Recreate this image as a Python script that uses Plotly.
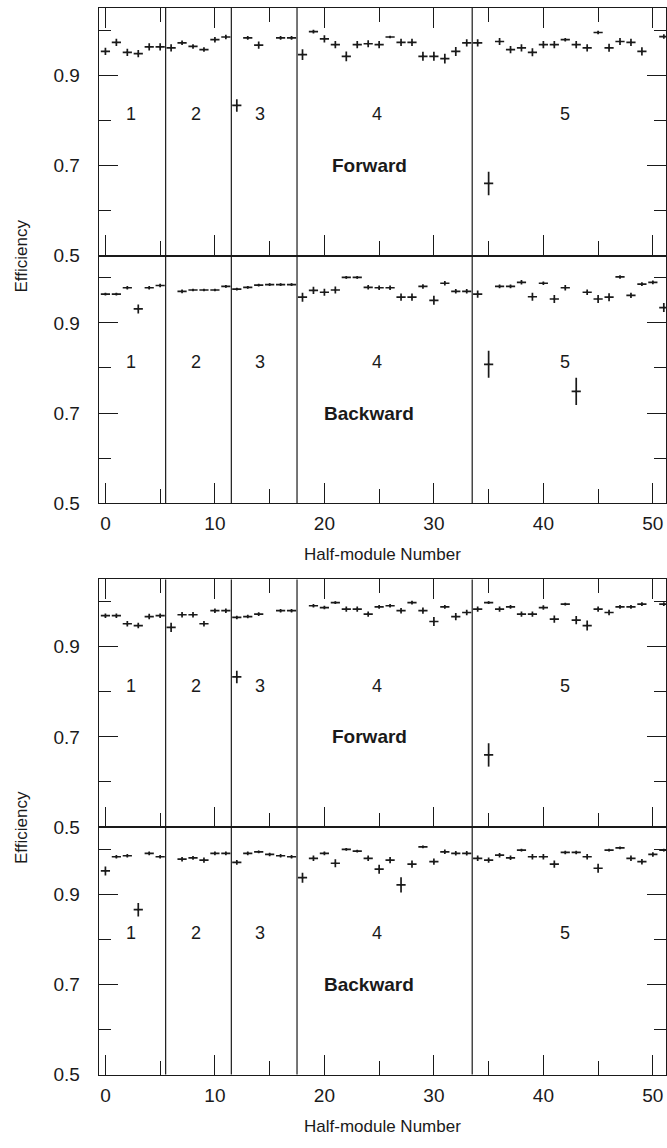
import plotly.graph_objects as go

# ---------------- data ----------------
# Figure 1 (upper block)
fwd1_x = [0, 1, 2, 3, 4, 5, 6, 7, 8, 9, 10, 11, 13, 14, 16, 17,
          18, 19, 20, 21, 22, 23, 24, 25, 26, 27, 28, 29, 30, 31, 32, 33, 34,
          36, 37, 38, 39, 40, 41, 42, 43, 44, 45, 46, 47, 48, 49, 51,
          12, 35]
fwd1_y = [.953, .973, .951, .948, .963, .963, .961, .972, .964, .957, .979, .985, .983, .967, .983, .983,
          .946, .997, .981, .968, .942, .968, .970, .968, .985, .973, .973, .942, .942, .937, .953, .972, .972,
          .975, .957, .961, .951, .968, .968, .979, .968, .961, .995, .961, .975, .973, .953, .986,
          .833, .660]
fwd1_err = [.008, .008, .008, .008, .008, .008, .008, .005, .005, .005, .006, .005, .004, .008, .004, .004,
            .012, .004, .008, .008, .011, .008, .008, .008, .003, .008, .008, .010, .010, .011, .010, .008, .008,
            .008, .008, .008, .009, .008, .008, .004, .008, .008, .004, .009, .008, .008, .009, .005,
            .014, .026]

bwd1_x = [0, 1, 2, 3, 4, 5, 7, 8, 9, 10, 11, 12, 13, 14, 15, 16, 17,
          18, 19, 20, 21, 22, 23, 24, 25, 26, 27, 28, 29, 30, 31, 32, 33, 34,
          36, 37, 38, 39, 40, 41, 42, 44, 45, 46, 47, 48, 49, 50, 51,
          35, 43]
bwd1_y = [.964, .964, .978, .931, .978, .983, .970, .973, .973, .973, .981, .975, .979, .984, .985, .985, .985,
          .957, .972, .968, .973, 1.001, 1.001, .979, .978, .978, .957, .957, .981, .950, .988, .970, .970, .964,
          .981, .981, .990, .958, .988, .953, .978, .968, .953, .957, 1.002, .961, .986, .990, .934,
          .808, .748]
bwd1_err = [.003, .003, .004, .010, .004, .004, .004, .003, .003, .003, .003, .003, .003, .003, .003, .003, .003,
            .010, .008, .008, .008, .003, .003, .005, .005, .005, .008, .008, .005, .010, .005, .005, .005, .008,
            .004, .004, .005, .009, .004, .009, .006, .006, .009, .009, .004, .006, .004, .004, .010,
            .030, .030]

# Figure 2 (lower block)
fwd2_x = [0, 1, 2, 3, 4, 5, 6, 7, 8, 9, 10, 11, 12, 13, 14, 16, 17,
          19, 20, 21, 22, 23, 24, 25, 26, 27, 28, 29, 30, 31, 32, 33, 34, 35,
          36, 37, 38, 39, 40, 41, 42, 43, 44, 45, 46, 47, 48, 49, 51,
          12, 35]
fwd2_y = [.969, .969, .951, .947, .967, .969, .943, .971, .971, .951, .980, .980, .965, .967, .9725, .980, .980,
          .991, .987, .998, .9835, .9835, .9725, .9886, .991, .980, .998, .980, .956, .9886, .967, .976, .9835, .998,
          .9835, .9886, .9725, .9725, .987, .9615, .9945, .959, .947, .9835, .976, .9886, .9886, .9945, .9945,
          .833, .660]
fwd2_err = [.005, .005, .006, .006, .006, .005, .010, .006, .006, .006, .005, .005, .004, .004, .004, .004, .004,
            .004, .004, .003, .006, .006, .006, .004, .004, .006, .004, .007, .010, .004, .008, .006, .006, .003,
            .006, .004, .006, .006, .005, .008, .003, .009, .011, .006, .006, .004, .004, .004, .004,
            .014, .026]

bwd2_x = [0, 1, 2, 4, 5, 7, 8, 9, 10, 11, 12, 13, 14, 15, 16, 17,
          18, 19, 20, 21, 22, 23, 24, 25, 26,
          28, 29, 30, 31, 32, 33, 34, 35, 36, 37, 38, 39, 40, 41, 42, 43, 44, 45, 46, 47, 48, 49, 50, 51,
          3, 27]
bwd2_y = [.952, .9835, .9857, .991, .9835, .978, .981, .976, .991, .991, .971, .991, .9945, .9886, .9857, .9835,
          .937, .980, .991, .969, 1.000, .996, .980, .956, .976,
          .967, 1.0055, .9725, .9945, .991, .991, .980, .976, .987, .981, .998, .9835, .9835, .967, .993, .993,
          .9835, .958, .998, 1.003, .980, .9725, .9886, .998,
          .866, .921]
bwd2_err = [.010, .004, .004, .004, .004, .005, .004, .006, .004, .004, .005, .004, .003, .004, .004, .004,
            .011, .006, .004, .009, .003, .003, .006, .010, .007,
            .008, .003, .007, .005, .005, .005, .006, .006, .005, .005, .003, .006, .006, .008, .004, .004,
            .006, .010, .003, .003, .006, .006, .005, .003,
            .015, .017]

module_edges = [5.5, 11.5, 17.5, 33.5]
module_names = ["1", "2", "3", "4", "5"]
module_label_x = [2.3, 8.3, 14.1, 24.8, 42.0]
module_label_y = 0.814
panel_names = ["Forward", "Backward", "Forward", "Backward"]
panel_name_x = 24.1
panel_name_y = 0.70

x_ticks_major = [0, 10, 20, 30, 40, 50]
x_ticks_minor = [5, 15, 25, 35, 45]
y_ticks_major = [0.5, 0.7, 0.9]
y_tick_text = ["0.5", "0.7", "0.9"]
y_ticks_minor = [0.6, 0.8, 1.0]

# ---------------- layout geometry ----------------
W, H = 667, 1148
FONT = "Liberation Sans, Arial, Helvetica, sans-serif"
INK = "#1a1a1a"
panel_px = [(8, 258), (258, 508), (585, 835), (835, 1085)]  # (top, bottom) pixels
domains = [[1 - b / H, 1 - t / H] for t, b in panel_px]
x_dom = [99 / W, 1.0]
x_range = [-0.6, 51.2]
y_range = [0.5, 1.0495]

series = [(fwd1_x, fwd1_y, fwd1_err), (bwd1_x, bwd1_y, bwd1_err),
          (fwd2_x, fwd2_y, fwd2_err), (bwd2_x, bwd2_y, bwd2_err)]

fig = go.Figure()
for i, (xs, ys, es) in enumerate(series):
    n = "" if i == 0 else str(i + 1)
    fig.add_trace(go.Scatter(
        x=xs, y=ys, mode="markers", xaxis="x" + n, yaxis="y" + n,
        marker=dict(size=2, color=INK),
        error_y=dict(type="data", array=es, visible=True, thickness=1.7, width=0, color=INK),
        error_x=dict(type="constant", value=0.42, visible=True, thickness=1.7, width=0, color=INK),
        showlegend=False, hoverinfo="x+y"))

layout = dict(width=W, height=H, margin=dict(l=0, r=0, t=0, b=0),
              paper_bgcolor="white", plot_bgcolor="white",
              font=dict(family=FONT, size=17, color=INK))

for i in range(4):
    n = "" if i == 0 else str(i + 1)
    forward = (i % 2 == 0)
    xa = dict(domain=x_dom, range=x_range, anchor="y" + n,
              tickmode="array", tickvals=x_ticks_major,
              ticks="inside", ticklen=20, tickwidth=1, tickcolor=INK,
              minor=dict(tickvals=x_ticks_minor, ticks="inside", ticklen=14, tickwidth=1, tickcolor=INK),
              showline=True, linecolor=INK, linewidth=1.2,
              mirror="allticks" if forward else True,
              showgrid=False, zeroline=False,
              showticklabels=not forward,
              tickfont=dict(size=19, family=FONT, color=INK),
              ticklabelstandoff=3)
    if not forward:
        xa["title"] = dict(text="Half-module Number", font=dict(size=17, family=FONT, color=INK), standoff=15)
    ya = dict(domain=domains[i], range=y_range, anchor="x" + n,
              tickmode="array", tickvals=y_ticks_major, ticktext=y_tick_text,
              ticks="inside", ticklen=19, tickwidth=1, tickcolor=INK,
              minor=dict(tickvals=y_ticks_minor, ticks="inside", ticklen=12, tickwidth=1, tickcolor=INK),
              showline=True, linecolor=INK, linewidth=1.2, mirror="allticks",
              showgrid=False, zeroline=False,
              tickfont=dict(size=19, family=FONT, color=INK),
              ticklabelstandoff=14)
    layout["xaxis" + n] = xa
    layout["yaxis" + n] = ya

fig.update_layout(**layout)

# module boundaries (span both panels of each block)
for blk in range(2):
    xr = "x" + ("" if blk == 0 else str(2 * blk + 1))
    y0 = domains[2 * blk + 1][0]
    y1 = domains[2 * blk][1]
    for e in module_edges:
        fig.add_shape(type="line", xref=xr, yref="paper", x0=e, x1=e, y0=y0, y1=y1,
                      line=dict(color=INK, width=1.2))

annotations = []
for i in range(4):
    n = "" if i == 0 else str(i + 1)
    for lx, name in zip(module_label_x, module_names):
        annotations.append(dict(x=lx, y=module_label_y, xref="x" + n, yref="y" + n, text=name,
                                showarrow=False, font=dict(size=18, family=FONT, color=INK)))
    annotations.append(dict(x=panel_name_x, y=panel_name_y, xref="x" + n, yref="y" + n,
                            text="<b>" + panel_names[i] + "</b>", showarrow=False,
                            font=dict(size=19, family=FONT, color=INK)))
for blk in range(2):
    annotations.append(dict(x=22 / W, y=domains[2 * blk][0], xref="paper", yref="paper",
                            xanchor="center", yanchor="middle",
                            text="Efficiency", textangle=-90, showarrow=False,
                            font=dict(size=17, family=FONT, color=INK)))
fig.update_layout(annotations=annotations)

fig.write_html("out.html",
               config={"displayModeBar": False},
               post_script="document.body.style.margin='0px';"
                           "document.documentElement.style.overflow='hidden';")
